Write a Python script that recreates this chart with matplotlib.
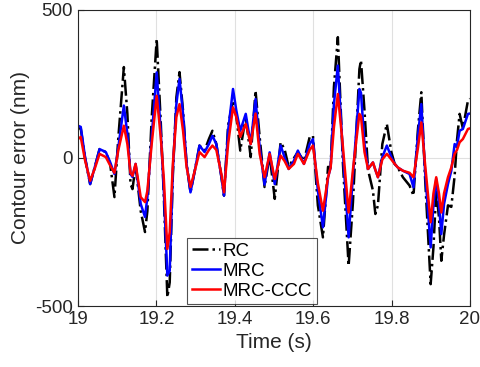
import matplotlib.pyplot as plt
import numpy as np

plt.rcParams['font.family'] = ['Liberation Sans', 'DejaVu Sans']

# time samples (s) and contour error (nm)
t = [19.000, 19.007, 19.018, 19.031, 19.043, 19.055, 19.071, 19.082, 19.093, 19.103,
     19.117, 19.126, 19.134, 19.139, 19.147, 19.160, 19.171, 19.177, 19.188, 19.2008,
     19.211, 19.219, 19.228, 19.234, 19.242, 19.251, 19.259, 19.268, 19.277, 19.287,
     19.298, 19.310, 19.323, 19.334, 19.343, 19.353, 19.366, 19.3725, 19.383, 19.3955,
     19.404, 19.414, 19.428, 19.4406, 19.453, 19.4635, 19.476, 19.489, 19.502, 19.517,
     19.527, 19.5375, 19.551, 19.561, 19.5765, 19.591, 19.5995, 19.612, 19.625, 19.638,
     19.6446, 19.653, 19.663, 19.676, 19.6905, 19.7015, 19.718, 19.722, 19.731, 19.740,
     19.7525, 19.7587, 19.7653, 19.7765, 19.788, 19.7995, 19.808, 19.816, 19.829, 19.846,
     19.856, 19.867, 19.876, 19.8855, 19.8998, 19.907, 19.914, 19.921, 19.927, 19.934,
     19.944, 19.9525, 19.961, 19.967, 19.9737, 19.982, 19.995, 20.000]

rc = [100, 100, 0, -88, -30, 30, 20, -20, -132, 71,
      307, 149, -88, -105, -25, -179, -250, -179, 135, 402,
      126, -130, -470, -420, -60, 205, 290, 160, -20, -116,
      -43, 42, 25, 64, 92, 47, -65, -127, 110, 194,
      140, 25, 140, 3, 227, 71, -98, 10, -138, 53,
      30, -30, 0, 20, -10, 70, 75, -160, -268, -30,
      -32, 240, 408, -20, -364, -150, 300, 330, 160, -40,
      -110, -189, -160, 47, 115, 20, -20, -32, -65, -93,
      -127, 90, 222, -65, -426, -300, -110, -200, -347, -260,
      -160, -165, -60, 60, 149, 100, 194, 200]

mrc = [109, 105, 3, -88, -30, 30, 20, -14, -54, 37,
       177, 81, -54, -64, -20, -155, -199, -132, 71, 289,
       92, -110, -397, -381, -43, 182, 267, 149, -20, -116,
       -43, 42, 20, 47, 75, 47, -65, -127, 92, 233,
       160, 92, 149, 47, 199, 37, -90, 19, -88, 42,
       3, -37, -9, 25, -20, 47, 64, -110, -234, -65,
       -32, 182, 312, 14, -268, -60, 233, 220, 47, -37,
       -15, -40, -65, 3, 42, 3, -20, -32, -43, -54,
       -99, 70, 182, -43, -302, -155, -71, -155, -257, -155,
       -88, -43, 47, 40, 92, 98, 149, 150]

ccc = [64, 71, -8, -77, -35, 14, 3, -25, -50, 27,
       109, 47, -50, -60, -20, -132, -149, -111, 47, 210,
       72, -70, -307, -250, -20, 138, 182, 92, -30, -98,
       -43, 20, 3, 27, 42, 27, -55, -116, 47, 171,
       138, 71, 115, 47, 150, 14, -65, 14, -71, 8,
       -10, -37, -20, 14, -20, 27, 42, -85, -178, -65,
       -32, 104, 216, 37, -184, -40, 149, 140, 20, -37,
       -15, -40, -65, -5, 14, -5, -20, -32, -43, -50,
       -65, 30, 120, -20, -217, -119, -65, -119, -184, -119,
       -65, -32, 14, 27, 53, 64, 98, 100]

fig = plt.figure(figsize=(4.8, 3.67), dpi=100)
ax = fig.add_axes([0.1625, 0.166, 0.8165, 0.807])

ax.plot(t, rc, color='k', linestyle='-.', linewidth=1.8, label='RC')
ax.plot(t, mrc, color='b', linewidth=1.8, label='MRC')
ax.plot(t, ccc, color='r', linewidth=1.8, label='MRC-CCC')

ax.set_xlim(19, 20)
ax.set_ylim(-500, 500)
ax.set_xticks(np.arange(19, 20.01, 0.2))
ax.set_xticklabels(['19', '19.2', '19.4', '19.6', '19.8', '20'])
ax.set_yticks([-500, 0, 500])
ax.set_yticklabels(['-500', '0', '500'])
ax.tick_params(direction='in', labelsize=13.5, colors='#262626', length=4)
ax.grid(True, color='#e0e0e0', linewidth=0.8)
ax.set_axisbelow(True)
for s in ax.spines.values():
    s.set_color('#262626')
    s.set_linewidth(0.8)

ax.set_xlabel('Time (s)', fontsize=15, color='#262626')
ax.set_ylabel('Contour error (nm)', fontsize=15, color='#262626')

leg = ax.legend(loc='lower left', bbox_to_anchor=(0.273, 0.0), fontsize=13.5,
                frameon=True, fancybox=False, edgecolor='#262626',
                handlelength=1.5, borderaxespad=0.1, labelspacing=0.15,
                borderpad=0.25, handletextpad=0.15)
leg.get_frame().set_linewidth(0.8)

fig.savefig('out.png', dpi=100)
